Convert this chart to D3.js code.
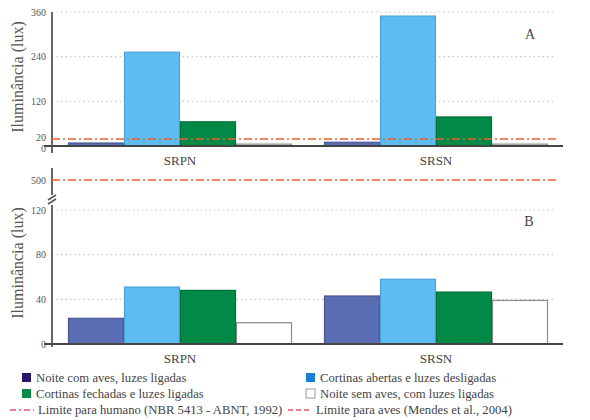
<!DOCTYPE html>
<html>
<head>
<meta charset="utf-8">
<script src="https://cdn.jsdelivr.net/npm/d3@7"></script>
<style>
  body { margin: 0; background: #fff; }
</style>
</head>
<body>
<div id="chart"></div>
<script>
let sites = ['SRPN', 'SRSN']
let series = ['noiteCom', 'abertas', 'fechadas', 'noiteSem']
let seriesLabels = [
    'Noite com aves, luzes ligadas',
    'Cortinas abertas e luzes desligadas',
    'Cortinas fechadas e luzes ligadas',
    'Noite sem aves, com luzes ligadas'
]
// panel A values (lux), per site, order = series
let valuesA = [
    [8, 252, 65, 5],
    [10, 349, 78, 5]
]
// panel B values (lux)
let valuesB = [
    [23, 51, 48, 19],
    [43, 58, 46.5, 39]
]
let ticksA = [0, 20, 120, 240, 360]
let gridA = [120, 240, 360]
let ticksB = [0, 40, 80, 120]
let gridB = [40, 80, 120]
let limitAves = 20
let limitHumano = 500

let svgWidth = 590, svgHeight = 420
let serif = '"Liberation Serif", "Times New Roman", Tinos, "DejaVu Serif", "Noto Serif", serif'

let barFill = { noiteCom: '#5b6db2', abertas: '#5dbdf0', fechadas: '#008a45', noiteSem: '#ffffff' }
let barStroke = { noiteCom: '#4a5590', abertas: '#4aa3d6', fechadas: '#006e36', noiteSem: '#8a8a8a' }
let legendFill = { noiteCom: '#2a176b', abertas: '#1a80d6', fechadas: '#0a8a48', noiteSem: '#ffffff' }

let svg = d3.select('#chart')
    .append('svg')
    .attr('width', svgWidth)
    .attr('height', svgHeight)
    .attr('font-family', serif)

let x = d3.scaleBand()
    .domain(sites)
    .range([52, 564])
    .paddingInner(0.125)
    .paddingOuter(0.0625)

let xs = d3.scaleBand()
    .domain(series)
    .range([0, x.bandwidth()])

let yA = d3.scaleLinear().domain([0, 360]).range([146, 12])
let yB = d3.scaleLinear().domain([0, 120]).range([344, 210])
let yBreak = d3.scaleLinear().domain([480, 520]).range([192, 168]) // little segment holding the 500 line

let axisX = 52, gridEnd = 556

function panel(y, values, ticks, grid, axisTop, axisBottom) {
    let g = svg.append('g')

    // dotted grid
    g.selectAll('.grid')
        .data(grid)
        .enter().append('line')
        .attr('x1', axisX).attr('x2', gridEnd)
        .attr('y1', d => y(d)).attr('y2', d => y(d))
        .attr('stroke', '#c8c8c8')
        .attr('stroke-width', 1.2)
        .attr('stroke-dasharray', '1.5,3')

    // bars
    let groups = g.selectAll('.site')
        .data(sites)
        .enter().append('g')
        .attr('transform', d => `translate(${x(d)},0)`)

    groups.selectAll('rect')
        .data((d, i) => values[i].map((v, j) => ({ key: series[j], v: v })))
        .enter().append('rect')
        .attr('x', d => xs(d.key) + 0.5)
        .attr('width', xs.bandwidth() - 1)
        .attr('y', d => y(d.v))
        .attr('height', d => y(0) - y(d.v))
        .attr('fill', d => barFill[d.key])
        .attr('stroke', d => barStroke[d.key])
        .attr('stroke-width', 1.2)

    // x axis line
    g.append('line')
        .attr('x1', axisX - 8).attr('x2', 563)
        .attr('y1', y(0)).attr('y2', y(0))
        .attr('stroke', '#444').attr('stroke-width', 1.8)

    // y axis line
    g.append('line')
        .attr('x1', axisX).attr('x2', axisX)
        .attr('y1', axisTop).attr('y2', axisBottom)
        .attr('stroke', '#555').attr('stroke-width', 1.8)

    // tick labels (in panel A the 0 and 20 are nudged apart so they don't collide)
    let crowded = ticks.includes(20)
    g.selectAll('.tick')
        .data(ticks)
        .enter().append('text')
        .attr('x', axisX - 6)
        .attr('y', d => y(d) + (crowded && d === 0 ? 2.5 : crowded && d === 20 ? -1.5 : 0))
        .attr('dy', '0.35em')
        .attr('text-anchor', 'end')
        .attr('font-size', 10)
        .attr('fill', '#555')
        .text(d => d)

    // category labels
    g.selectAll('.cat')
        .data(sites)
        .enter().append('text')
        .attr('x', d => x(d) + x.bandwidth() / 2)
        .attr('y', y(0) + 19)
        .attr('text-anchor', 'middle')
        .attr('font-size', 13)
        .attr('fill', '#444')
        .text(d => d)
    return g
}

let gA = panel(yA, valuesA, ticksA, gridA, 12, 153)
let gB = panel(yB, valuesB, ticksB, gridB, 205, 347)

// limit line for birds in panel A
gA.append('line')
    .attr('x1', axisX).attr('x2', gridEnd)
    .attr('y1', yA(limitAves) + 0.5).attr('y2', yA(limitAves) + 0.5)
    .attr('stroke', '#e8622e').attr('stroke-width', 1.6)
    .attr('stroke-dasharray', '8,3,2,3')

// break segment with 500 line
svg.append('line')
    .attr('x1', axisX).attr('x2', axisX)
    .attr('y1', 168).attr('y2', 195)
    .attr('stroke', '#555').attr('stroke-width', 1.8)
svg.append('line')
    .attr('x1', axisX).attr('x2', gridEnd)
    .attr('y1', yBreak(limitHumano)).attr('y2', yBreak(limitHumano))
    .attr('stroke', '#e8622e').attr('stroke-width', 1.6)
    .attr('stroke-dasharray', '8,3,2,3')
svg.append('text')
    .attr('x', axisX - 6).attr('y', yBreak(limitHumano))
    .attr('dy', '0.35em').attr('text-anchor', 'end')
    .attr('font-size', 10).attr('fill', '#555')
    .text(limitHumano)
// break marks
svg.selectAll('.brk')
    .data([0, 4])
    .enter().append('line')
    .attr('x1', axisX - 4).attr('x2', axisX + 4)
    .attr('y1', d => 200 + d).attr('y2', d => 195 + d)
    .attr('stroke', '#555').attr('stroke-width', 1.6)

// axis titles
;[77, 263].forEach(cy => {
    svg.append('text')
        .attr('transform', `translate(23,${cy}) rotate(-90)`)
        .attr('text-anchor', 'middle')
        .attr('font-size', 16)
        .attr('fill', '#555')
        .text('Iluminância (lux)')
})

// panel letters
svg.append('text').attr('x', 530).attr('y', 39).attr('text-anchor', 'middle')
    .attr('font-size', 14).attr('fill', '#444').text('A')
svg.append('text').attr('x', 529).attr('y', 226).attr('text-anchor', 'middle')
    .attr('font-size', 14).attr('fill', '#444').text('B')

// legend
let legend = svg.append('g')
    .attr('font-size', 12.7)
    .attr('fill', '#444')

let legendItems = [
    { key: 'noiteCom', x: 22, y: 378 },
    { key: 'abertas', x: 306, y: 378 },
    { key: 'fechadas', x: 22, y: 394 },
    { key: 'noiteSem', x: 306, y: 394 }
]
let legendKeys = legend.selectAll('.key')
    .data(legendItems)
    .enter().append('g')
    .attr('transform', d => `translate(${d.x},${d.y})`)

legendKeys.append('rect')
    .attr('x', 0).attr('y', -5)
    .attr('width', 9).attr('height', 9)
    .attr('fill', d => legendFill[d.key])
    .attr('stroke', d => d.key === 'noiteSem' ? '#999' : 'none')
legendKeys.append('text')
    .attr('x', 14).attr('dy', '0.35em')
    .text(d => seriesLabels[series.indexOf(d.key)])

let lineItems = [
    { text: 'Limite para humano (NBR 5413 - ABNT, 1992)', x: 10, dash: '6,3,2,3' },
    { text: 'Limite para aves (Mendes et al., 2004)', x: 288, dash: '5,3' }
]
let lineKeys = legend.selectAll('.lkey')
    .data(lineItems)
    .enter().append('g')
    .attr('transform', d => `translate(${d.x},410)`)
lineKeys.append('line')
    .attr('x1', 0).attr('x2', 24)
    .attr('stroke', '#e8506a').attr('stroke-width', 1.5)
    .attr('stroke-dasharray', d => d.dash)
lineKeys.append('text')
    .attr('x', 28).attr('dy', '0.35em')
    .text(d => d.text)
</script>
</body>
</html>
